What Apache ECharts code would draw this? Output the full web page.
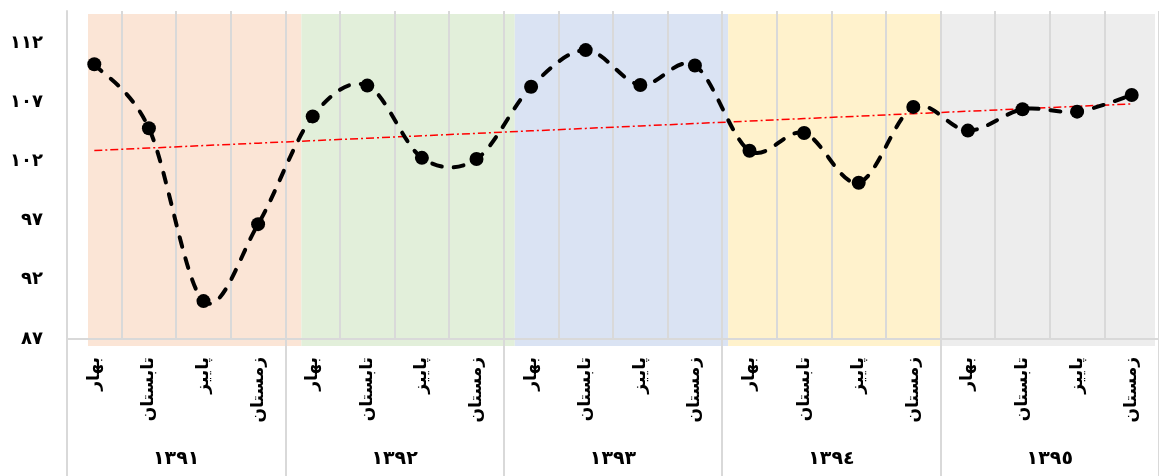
<!DOCTYPE html>
<html lang="fa">
<head>
    <meta charset="UTF-8">
    <title>chart</title>
    <style>
        html, body { margin: 0; padding: 0; background: #fff; }
        #chart { width: 1159px; height: 476px; }
    </style>
</head>
<body>
<div id="chart"></div>
<script src="https://cdn.jsdelivr.net/npm/echarts@6/dist/echarts.min.js"></script>
<script>
    // data
    var years = ['۱۳۹۱', '۱۳۹۲', '۱۳۹۳', '۱۳۹۴', '۱۳۹۵'];
    var seasons = ['بهار', 'تابستان', 'پاییز', 'زمستان'];
    var values = [
        110.2, 104.8, 90.2, 96.7,
        105.8, 108.4, 102.3, 102.2,
        108.3, 111.4, 108.45, 110.1,
        102.9, 104.4, 100.2, 106.6,
        104.6, 106.4, 106.2, 107.6
    ];
    var bandColors = ['#fbe5d6', '#e2efda', '#dae3f3', '#fff2cc', '#ededed'];

    var yearLabels = years.map(function (y) {
        return y.replace(/[۰-۹]/g, function (c) {
            return '٠١٢٣٤٥٦٧٨٩'['۰۱۲۳۴۵۶۷۸۹'.indexOf(c)];
        });
    });

    // category list: 4 seasons per year
    var categories = [];
    years.forEach(function () {
        seasons.forEach(function (s) { categories.push(s); });
    });

    // linear trend line (least squares)
    var n = values.length, sx = 0, sy = 0, sxy = 0, sxx = 0;
    values.forEach(function (v, i) { sx += i; sy += v; sxy += i * v; sxx += i * i; });
    var slope = (n * sxy - sx * sy) / (n * sxx - sx * sx);
    var icpt = (sy - slope * sx) / n;
    var trend = values.map(function (v, i) { return +(icpt + slope * i).toFixed(3); });

    function arabicDigits(v) {
        return String(v).replace(/\d/g, function (d) { return '٠١٢٣٤٥٦٧٨٩'[d]; });
    }

    // smooth curve like excel (catmull-rom), drawn once through api.coord
    function renderCurve(params, api) {
        if (params.dataIndex !== 0) return;
        var p = values.map(function (v, i) { return api.coord([i, v]); });
        var d = 'M' + p[0][0] + ' ' + p[0][1];
        for (var i = 0; i < p.length - 1; i++) {
            var p0 = p[Math.max(i - 1, 0)], p1 = p[i], p2 = p[i + 1], p3 = p[Math.min(i + 2, p.length - 1)];
            var c1x = p1[0] + (p2[0] - p0[0]) / 6, c1y = p1[1] + (p2[1] - p0[1]) / 6;
            var c2x = p2[0] - (p3[0] - p1[0]) / 6, c2y = p2[1] - (p3[1] - p1[1]) / 6;
            d += ' C' + c1x + ' ' + c1y + ' ' + c2x + ' ' + c2y + ' ' + p2[0] + ' ' + p2[1];
        }
        return {
            type: 'path',
            shape: {pathData: d},
            style: {fill: null, stroke: '#000', lineWidth: 4, lineDash: [10, 12], lineCap: 'round'}
        };
    }

    var font = 'DejaVu Sans';
    var grey = '#d9d9d9';

    var myChart = echarts.init(document.getElementById('chart'));
    var option = {
        animation: false,
        grid: [
            {left: 67, top: 11, width: 1101, height: 328},
            {left: 88, top: 14, width: 1067, height: 332}
        ],
        xAxis: [
            {
                type: 'category',
                gridIndex: 0,
                data: categories,
                boundaryGap: true,
                axisLine: {lineStyle: {color: grey, width: 2}},
                axisTick: {show: false},
                splitLine: {show: true, lineStyle: {color: grey, width: 2}},
                axisLabel: {
                    interval: 0,
                    rotate: 90,
                    margin: 18,
                    color: '#000',
                    fontFamily: font,
                    fontWeight: 'bold',
                    fontSize: 17
                }
            },
            {
                type: 'category',
                gridIndex: 0,
                position: 'bottom',
                data: yearLabels,
                boundaryGap: true,
                axisLine: {show: false},
                axisTick: {show: true, length: 137, lineStyle: {color: grey, width: 2}},
                splitLine: {show: false},
                axisLabel: {
                    interval: 0,
                    margin: 111,
                    color: '#000',
                    fontFamily: font,
                    fontWeight: 'bold',
                    fontSize: 19
                }
            },
            {
                type: 'category',
                gridIndex: 1,
                data: yearLabels,
                show: false,
                boundaryGap: true
            }
        ],
        yAxis: [
            {
                type: 'value',
                gridIndex: 0,
                min: 87,
                max: 114.7,
                interval: 5,
                axisLine: {show: true, lineStyle: {color: grey, width: 2}},
                axisTick: {show: false},
                splitLine: {show: false},
                axisLabel: {
                    showMaxLabel: false,
                    margin: 24,
                    color: '#000',
                    fontFamily: font,
                    fontWeight: 'bold',
                    fontSize: 18,
                    formatter: arabicDigits
                }
            },
            {
                type: 'value',
                gridIndex: 1,
                min: 0,
                max: 1,
                show: false
            }
        ],
        series: [
            {
                name: 'bands',
                type: 'bar',
                xAxisIndex: 2,
                yAxisIndex: 1,
                silent: true,
                z: -1,
                barWidth: '100%',
                barCategoryGap: '0%',
                data: years.map(function (y, i) {
                    return {value: 1, itemStyle: {color: bandColors[i]}};
                })
            },
            {
                name: 'trend',
                type: 'line',
                xAxisIndex: 0,
                yAxisIndex: 0,
                data: trend,
                symbol: 'none',
                z: 3,
                lineStyle: {color: '#ff0000', width: 1.5, type: [8, 3, 2, 3]}
            },
            {
                name: 'curve',
                type: 'custom',
                xAxisIndex: 0,
                yAxisIndex: 0,
                z: 4,
                renderItem: renderCurve,
                data: values
            },
            {
                name: 'value',
                type: 'scatter',
                xAxisIndex: 0,
                yAxisIndex: 0,
                data: values,
                symbol: 'circle',
                symbolSize: 14,
                z: 5,
                itemStyle: {color: '#000', opacity: 1}
            }
        ]
    };
    myChart.setOption(option);
</script>
</body>
</html>
